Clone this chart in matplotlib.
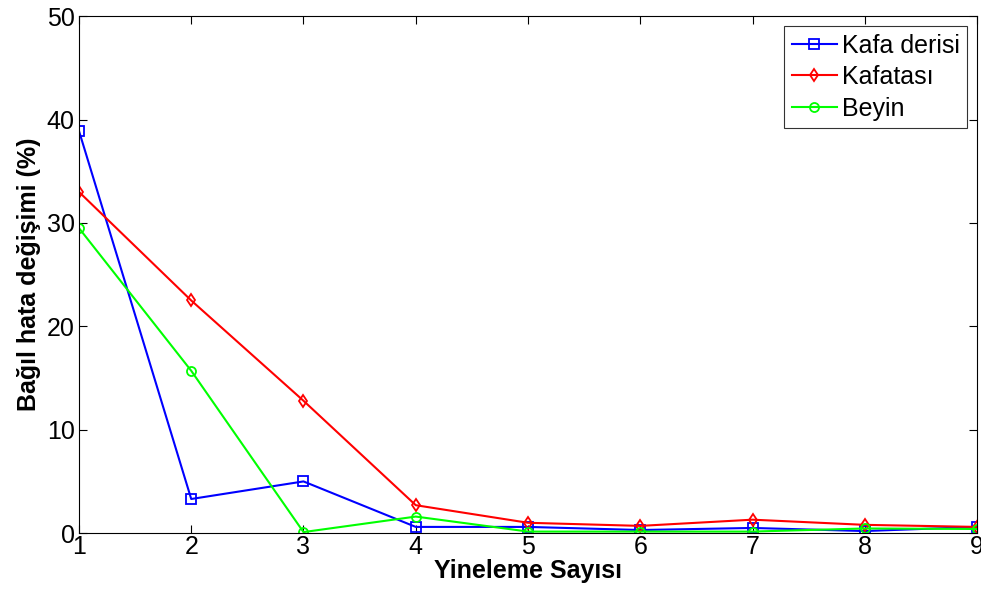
import matplotlib.pyplot as plt

plt.rcParams['font.family'] = ['Liberation Sans', 'DejaVu Sans']

iterations = [1, 2, 3, 4, 5, 6, 7, 8, 9]
kafa_derisi = [38.9, 3.3, 5.0, 0.6, 0.6, 0.3, 0.5, 0.2, 0.6]
kafatasi = [33.0, 22.5, 12.8, 2.7, 1.0, 0.7, 1.3, 0.8, 0.6]
beyin = [29.5, 15.7, 0.1, 1.6, 0.15, 0.15, 0.15, 0.45, 0.4]

fig = plt.figure(figsize=(9.81, 5.97), dpi=100)
ax = fig.add_axes([0.0805, 0.107, 0.9155, 0.866])

ax.plot(iterations, kafa_derisi, color='#0000ff', marker='s', mfc='none', ms=6.5, mew=1.3, lw=1.5, label='Kafa derisi')
ax.plot(iterations, kafatasi, color='#ff0000', marker='d', mfc='none', ms=6.5, mew=1.3, lw=1.5, label='Kafatası')
ax.plot(iterations, beyin, color='#00ff00', marker='o', mfc='none', ms=6.5, mew=1.3, lw=1.5, label='Beyin')

ax.set_xlim(1, 9)
ax.set_ylim(0, 50)
ax.set_xticks(range(1, 10))
ax.set_yticks(range(0, 51, 10))
ax.tick_params(direction='in', top=True, right=True, labelsize=18, length=6)
ax.tick_params(axis='x', pad=1)
ax.tick_params(axis='y', pad=3)
for s in ax.spines.values():
    s.set_linewidth(0.8)

ax.set_xlabel('Yineleme Sayısı', fontsize=18, fontweight='bold', labelpad=0)
ax.set_ylabel('Bağıl hata değişimi (%)', fontsize=18, fontweight='bold', labelpad=4)

leg = ax.legend(loc='upper right', fontsize=18, fancybox=False, edgecolor='black',
                handlelength=1.8, handletextpad=0.2, borderpad=0.3, labelspacing=0.3,
                borderaxespad=0.4)
leg.get_frame().set_linewidth(0.8)

fig.savefig('out.png', dpi=100)
